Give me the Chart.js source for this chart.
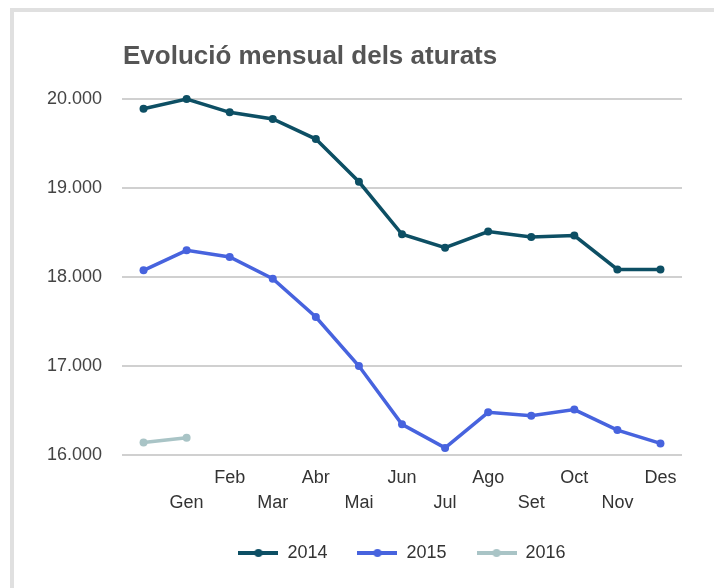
<!DOCTYPE html>
<html>
<head>
<meta charset="utf-8">
<script src="https://cdn.jsdelivr.net/npm/chart.js@4.4.1/dist/chart.umd.min.js"></script>
<style>
  html, body { margin: 0; padding: 0; background: #fff; }
  #wrap { position: relative; width: 714px; height: 588px; overflow: hidden; }
  #frame {
    position: absolute; left: 10px; top: 8px; right: -10px; bottom: -10px;
    border-top: 4px solid #e0e0e0; border-left: 4px solid #e0e0e0;
    pointer-events: none;
  }
</style>
</head>
<body>
<div id="wrap">
  <canvas id="chart" width="714" height="588"></canvas>
  <div id="frame"></div>
</div>
<script>
// chart data
var months = ['', 'Gen', 'Feb', 'Mar', 'Abr', 'Mai', 'Jun', 'Jul', 'Ago', 'Set', 'Oct', 'Nov', 'Des'];
var y2014 = [19890, 20000, 19850, 19775, 19550, 19070, 18480, 18330, 18510, 18450, 18465, 18085, 18085];
var y2015 = [18075, 18300, 18225, 17980, 17550, 17000, 16345, 16080, 16480, 16440, 16510, 16280, 16130];
var y2016 = [16140, 16195, null, null, null, null, null, null, null, null, null, null, null];
var chartTitle = 'Evolució mensual dels aturats';

var FONT = "'Liberation Sans', Arial, sans-serif";
var colors = { '2014': '#0d4f64', '2015': '#4763de', '2016': '#a9c4c6' };

// small line+dot image for the legend
function legendMark(color) {
  var c = document.createElement('canvas');
  c.width = 40; c.height = 10;
  var g = c.getContext('2d');
  g.strokeStyle = color;
  g.lineWidth = 4;
  g.beginPath(); g.moveTo(0, 5); g.lineTo(40, 5); g.stroke();
  g.fillStyle = color;
  g.beginPath(); g.arc(20, 5, 4, 0, Math.PI * 2); g.fill();
  return c;
}

function fmt(v) {
  return String(v).replace(/\B(?=(\d{3})+(?!\d))/g, '.');
}

// title drawn aligned with the plot area
var titlePlugin = {
  id: 'leftTitle',
  afterDraw: function (chart) {
    var ctx = chart.ctx;
    ctx.save();
    ctx.font = 'bold 26px ' + FONT;
    ctx.fillStyle = '#555555';
    ctx.textBaseline = 'alphabetic';
    ctx.textAlign = 'left';
    ctx.fillText(chartTitle, chart.chartArea.left + 1, 64);
    ctx.restore();
  }
};

function ds(label, data, width) {
  return {
    label: label,
    data: data,
    borderColor: colors[label],
    backgroundColor: colors[label],
    borderWidth: width,
    pointRadius: 4,
    pointHoverRadius: 4,
    pointBorderWidth: 0,
    tension: 0,
    spanGaps: false,
    clip: false
  };
}

new Chart(document.getElementById('chart'), {
  type: 'line',
  data: {
    labels: months,
    datasets: [ds('2014', y2014, 3.5), ds('2015', y2015, 3.5), ds('2016', y2016, 3.5)]
  },
  options: {
    responsive: false,
    animation: false,
    devicePixelRatio: 1,
    layout: { padding: { top: 99, right: 32, bottom: 16, left: 0 } },
    scales: {
      x: {
        offset: true,
        grid: { display: false },
        border: { display: false },
        ticks: {
          autoSkip: false,
          maxRotation: 0,
          padding: 2,
          color: '#333',
          font: { family: FONT, size: 18, lineHeight: 1.4 },
          callback: function (v, i) {
            var m = months[i];
            return i % 2 === 0 ? [m] : ['', m];
          }
        },
        afterFit: function (s) { s.height = 59; }
      },
      y: {
        min: 16000,
        max: 20000,
        grid: { color: '#d0d0d0', lineWidth: 2, drawTicks: false },
        border: { display: false },
        ticks: {
          stepSize: 1000,
          padding: 20,
          color: '#444',
          font: { family: FONT, size: 18 },
          callback: function (v) { return fmt(v); }
        },
        afterFit: function (s) { s.width = 122; }
      }
    },
    plugins: {
      title: { display: false },
      tooltip: { enabled: false },
      legend: {
        position: 'bottom',
        fullSize: false,
        labels: {
          usePointStyle: true,
          pointStyleWidth: 40,
          boxHeight: 10,
          padding: 30,
          color: '#333',
          font: { family: FONT, size: 18 },
          generateLabels: function (chart) {
            return chart.data.datasets.map(function (d, i) {
              return {
                text: d.label,
                pointStyle: legendMark(d.borderColor),
                fillStyle: d.borderColor,
                strokeStyle: d.borderColor,
                lineWidth: 0,
                fontColor: '#333',
                hidden: false,
                datasetIndex: i
              };
            });
          }
        }
      }
    }
  },
  plugins: [titlePlugin]
});
</script>
</body>
</html>
